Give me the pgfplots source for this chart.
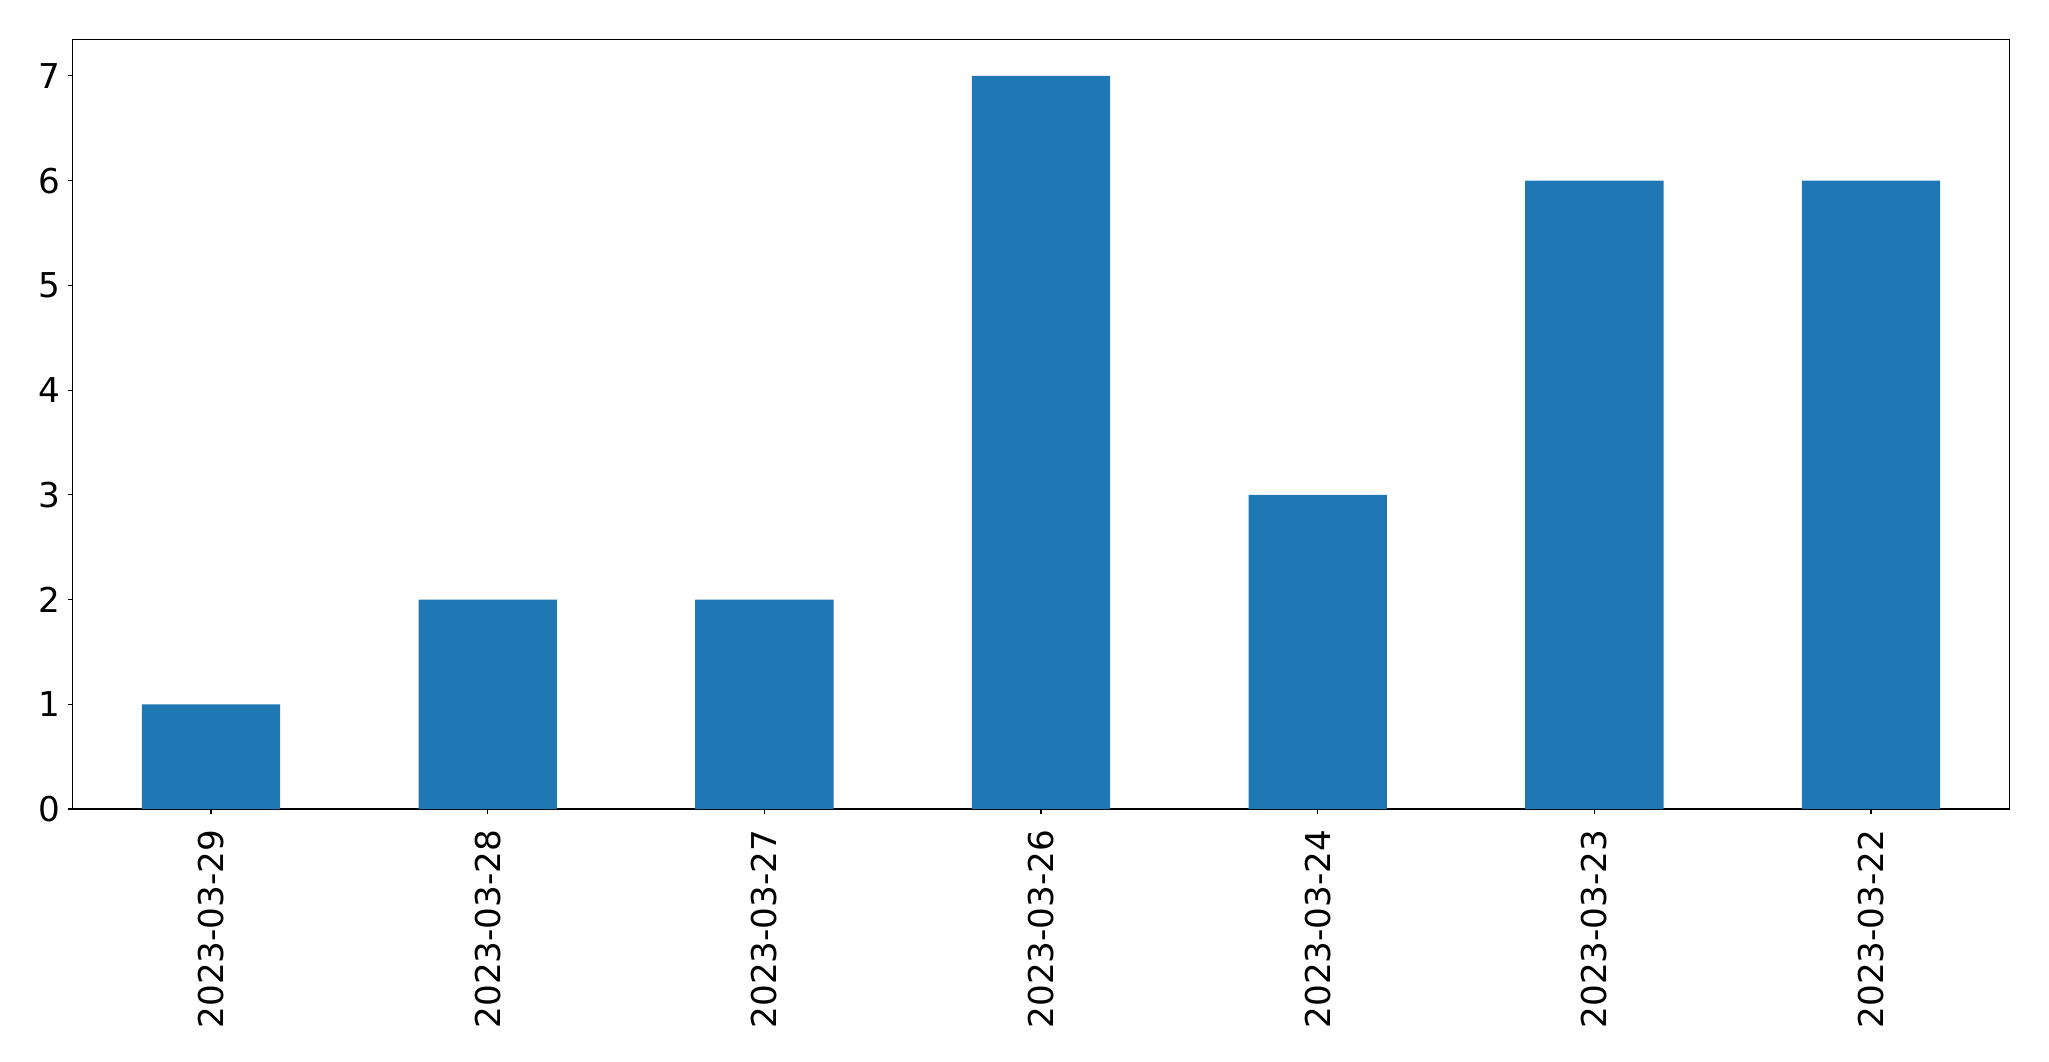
\documentclass[border=0pt]{standalone}
\usepackage{pgfplots}
\pgfplotsset{compat=1.18}
\usepackage{fontspec}
\setmainfont{DejaVu Sans}
\definecolor{mplblue}{HTML}{1F77B4}
\begin{document}
\begin{tikzpicture}
\begin{axis}[
  scale only axis,
  width=968.3pt, height=384.85pt,
  xmin=-0.5, xmax=6.5,
  ymin=0, ymax=7.35,
  xtick=data,
  xticklabels={2023-03-29,2023-03-28,2023-03-27,2023-03-26,2023-03-24,2023-03-23,2023-03-22},
  ytick={0,1,2,3,4,5,6,7},
  tick align=outside,
  major tick length=2.43pt,
  xtick pos=bottom, ytick pos=left,
  axis line style={line width=0.55pt, black},
  every tick/.style={line width=0.55pt, black},
  /pgf/number format/assume math mode=true,
  ticklabel style={font=\fontsize{17.1}{20}\selectfont},
  xticklabel style={yshift=-7.7pt, rotate=90, anchor=east, inner sep=0pt},
  yticklabel style={inner sep=0pt, xshift=-3.4pt},
  axis on top=false,
]
\addplot[ybar, bar width=0.5, fill=mplblue, draw=none] coordinates {
  (0,1) (1,2) (2,2) (3,7) (4,3) (5,6) (6,6)
};
\end{axis}
\path ([shift={(-36.35pt,-126pt)}]current axis.south west) rectangle ([shift={(19.85pt,19.65pt)}]current axis.north east);
\end{tikzpicture}
\end{document}
